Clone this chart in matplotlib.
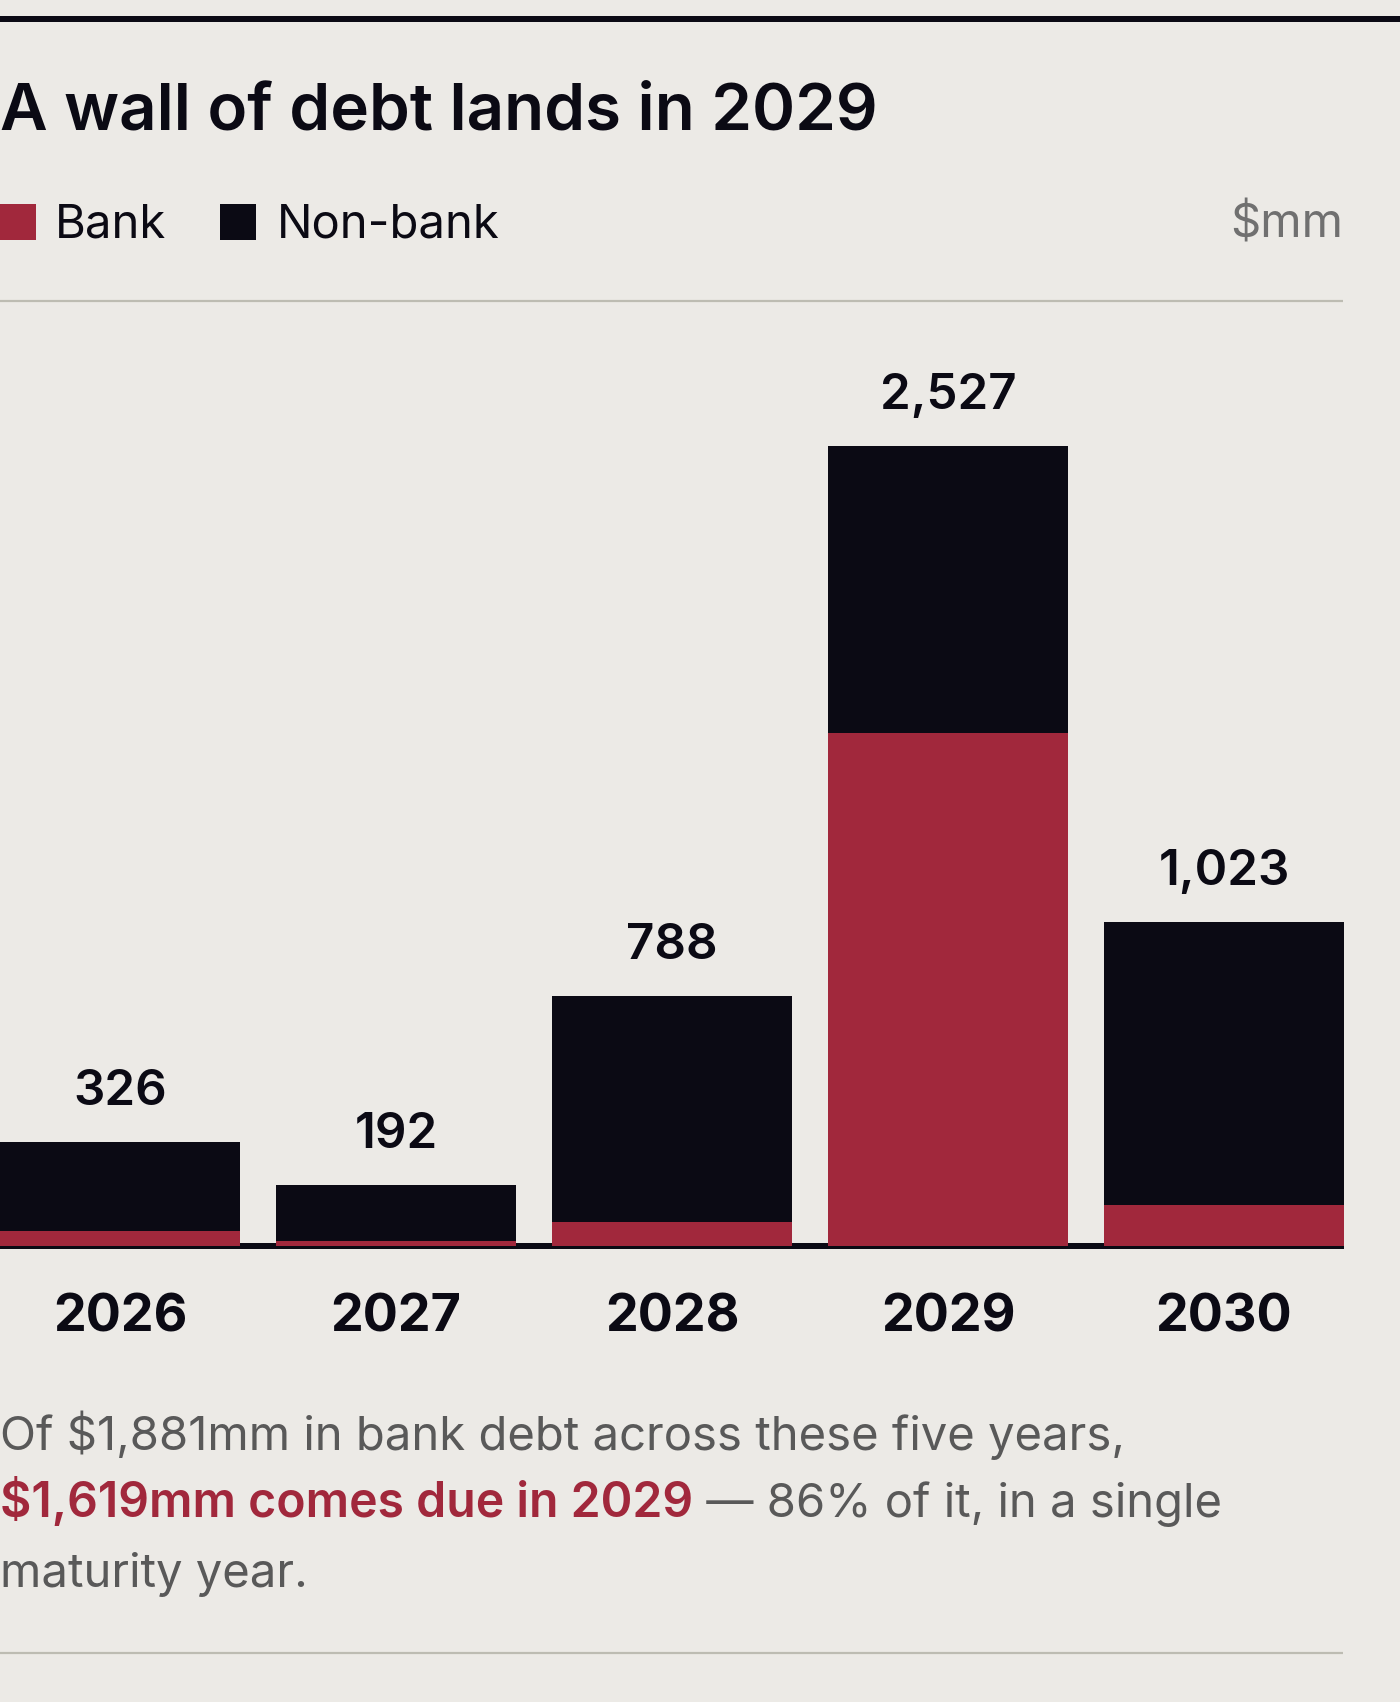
import matplotlib
matplotlib.use("Agg")
import matplotlib.pyplot as plt
from matplotlib.patches import Rectangle
from matplotlib.lines import Line2D

# ---- data ----
years = ["2026", "2027", "2028", "2029", "2030"]
totals = [326, 192, 788, 2527, 1023]
bank = [45, 14, 76, 1619, 127]
nonbank = [t - b for t, b in zip(totals, bank)]
value_labels = ["326", "192", "788", "2,527", "1,023"]

title = "A wall of debt lands in 2029"
legend_labels = ["Bank", "Non-bank"]
unit_label = "$mm"
note_line1 = "Of $1,881mm in bank debt across these five years,"
note_red = "$1,619mm comes due in 2029"
note_rest = " \u2014 86% of it, in a single"
note_line3 = "maturity year."

# ---- style ----
BG = "#ECEAE6"
RED = "#A1283C"
INK = "#0B0A14"
GRAY = "#595959"
RULE = "#BDBCB2"
FONT = ["Inter", "DejaVu Sans"]
plt.rcParams["font.family"] = FONT

W, H, DPI = 1400, 1702, 100
fig = plt.figure(figsize=(W / DPI, H / DPI), dpi=DPI, facecolor=BG)

def fy(px):  # pixel from top -> figure fraction
    return 1 - px / H

def fx(px):
    return px / W

# top rule
fig.add_artist(Line2D([0, 1], [fy(19), fy(19)], color=INK, lw=6 * 72 / DPI,
                      transform=fig.transFigure, solid_capstyle="butt"))

# title
fig.text(fx(0), fy(130), title, fontsize=47.2, fontweight="semibold",
         color=INK, ha="left", va="baseline")

# legend
sq = 36
fig.add_artist(Rectangle((fx(0), fy(240)), sq / W, sq / H, color=RED,
                         transform=fig.transFigure, lw=0))
fig.text(fx(55), fy(238), legend_labels[0], fontsize=34, color=INK,
         ha="left", va="baseline")
fig.add_artist(Rectangle((fx(220), fy(240)), sq / W, sq / H, color=INK,
                         transform=fig.transFigure, lw=0))
fig.text(fx(277), fy(238), legend_labels[1], fontsize=34, color=INK,
         ha="left", va="baseline")
fig.text(fx(1343), fy(238), unit_label, fontsize=34, color="#707070",
         ha="right", va="baseline")

# rules
fig.add_artist(Line2D([0, fx(1343)], [fy(301), fy(301)], color=RULE,
                      lw=2.2 * 72 / DPI, transform=fig.transFigure,
                      solid_capstyle="butt"))
fig.add_artist(Line2D([0, fx(1343)], [fy(1653), fy(1653)], color=RULE,
                      lw=2.2 * 72 / DPI, transform=fig.transFigure,
                      solid_capstyle="butt"))

# ---- chart ----
base_px = 1245.7
k = 800 / 2527.0  # px per unit
ymax = 3000
ax_h = ymax * k
ax = fig.add_axes([0, fy(base_px), 1344 / W, ax_h / H])
ax.set_facecolor("none")
x = list(range(len(years)))
width = 240 / 276
ax.bar(x, bank, width=width, color=RED, zorder=3, lw=0)
ax.bar(x, nonbank, width=width, bottom=bank, color=INK, zorder=3, lw=0)
ax.set_xlim(-width / 2, len(years) - 1 + width / 2)
ax.set_ylim(0, ymax)
ax.axhline(0, color=INK, lw=6 * 72 / DPI, zorder=2, clip_on=False,
           solid_capstyle="butt")

for xi, t, lab in zip(x, totals, value_labels):
    ax.annotate(lab, xy=(xi, t), xytext=(0, 37 * 72 / DPI),
                textcoords="offset points", ha="center", va="baseline",
                fontsize=35.5, fontweight="semibold", color=INK,
                annotation_clip=False)

ax.set_xticks(x, labels=years)
ax.tick_params(axis="x", length=0, pad=86 * 72 / DPI)
for lab in ax.get_xticklabels():
    lab.set_va("baseline")
    lab.set_fontsize(37.5)
    lab.set_fontweight("bold")
    lab.set_color(INK)
ax.set_yticks([])
for s in ax.spines.values():
    s.set_visible(False)

# ---- note ----
fs_note = 34
fig.text(fx(0), fy(1450), note_line1, fontsize=fs_note, color=GRAY,
         ha="left", va="baseline")
t_red = fig.text(fx(0), fy(1517), note_red, fontsize=34.7, color=RED,
                 fontweight="semibold", ha="left", va="baseline")
fig.canvas.draw()
r = fig.canvas.get_renderer()
bb = t_red.get_window_extent(r)
fig.text(bb.x1 / W, fy(1517), note_rest, fontsize=fs_note, color=GRAY,
         ha="left", va="baseline")
fig.text(fx(0), fy(1587), note_line3, fontsize=fs_note, color=GRAY,
         ha="left", va="baseline")

fig.savefig("out.png", dpi=DPI, facecolor=BG)
